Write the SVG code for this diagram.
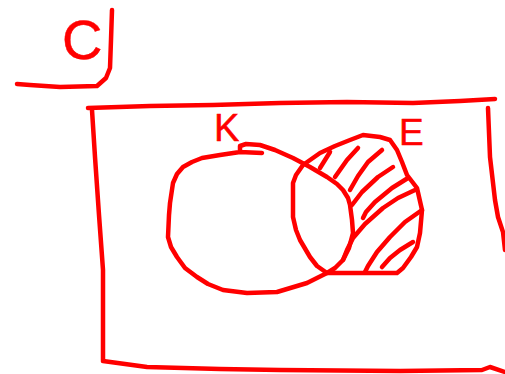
<svg xmlns="http://www.w3.org/2000/svg" width="505" height="374" viewBox="0 0 505 374">
<style>
.s{fill:none;stroke:#ff0000;stroke-width:4.5;stroke-linecap:round;stroke-linejoin:round}
.t{fill:#ff0000;stroke:#ff0000;stroke-width:0.5;font-family:"Liberation Sans",Arial,sans-serif}
</style>
<rect width="505" height="374" fill="#ffffff"/>
<g id="universe-C">
<path class="s" d="M112,10 L111,40 L110,68 L106,78 L97,86 L60,87 L30,85 L17,84"/>
<text class="t" x="62" y="59" font-size="56">C</text>
</g>
<g id="frame">
<path class="s" d="M88,108 L150,106 L213,105 L280,103 L347,102 L413,103 L460,101 L495,99"/>
<path class="s" d="M92,110 L95,157 L99,215 L103,270 L103,360"/>
<path class="s" d="M103,361 L147,367 L220,369 L280,370 L400,371 L482,370 L490,367 L505,372"/>
<path class="s" d="M488,108 L490,157 L495,200 L498,217 L503,232 L505,250"/>
</g>
<g id="set-K">
<path class="s" d="M240,152 L240,146 L246,144 L260,145 L275,150 L293,158 L310,167 L327,177 L337,184 L343,190 L348,198 L350,205 L352,220 L353,233 L349,248 L343,260 L335,268 L327,273 L307,283 L277,292 L247,293 L223,290 L208,284 L197,277 L185,268 L177,257 L171,247 L168,237 L169,215 L170,203 L173,183 L177,174 L183,167 L192,162 L202,158 L220,155 L240,152 L262,153"/>
<text class="t" x="214" y="141" font-size="38">K</text>
</g>
<g id="set-E">
<path class="s" d="M327,273 L397,273 L403,268 L411,257 L417,247 L420,233 L422,210 L417,188 L407,175 L402,162 L397,150 L390,140 L380,137 L363,135 L350,140 L335,146 L320,153 L303,165 L296,175 L293,183 L293,217 L296,230 L300,240 L310,257 L317,266 L327,273"/>
<text class="t" x="399" y="145" font-size="37">E</text>
</g>
<g id="hatching">
<path class="s" d="M330,152 L320,168"/>
<path class="s" d="M358,148 L347,160 L335,177"/>
<path class="s" d="M382,150 L368,162 L358,176 L350,190"/>
<path class="s" d="M393,167 L378,177 L362,192 L352,205"/>
<path class="s" d="M408,178 L392,188 L375,202 L366,212 L363,218"/>
<path class="s" d="M415,190 L398,198 L383,208 L365,224 L353,238 L347,250 L343,260"/>
<path class="s" d="M422,210 L405,222 L390,237 L377,252 L368,266 L365,272"/>
<path class="s" d="M413,242 L400,250 L390,258 L382,267"/>
</g>
</svg>
